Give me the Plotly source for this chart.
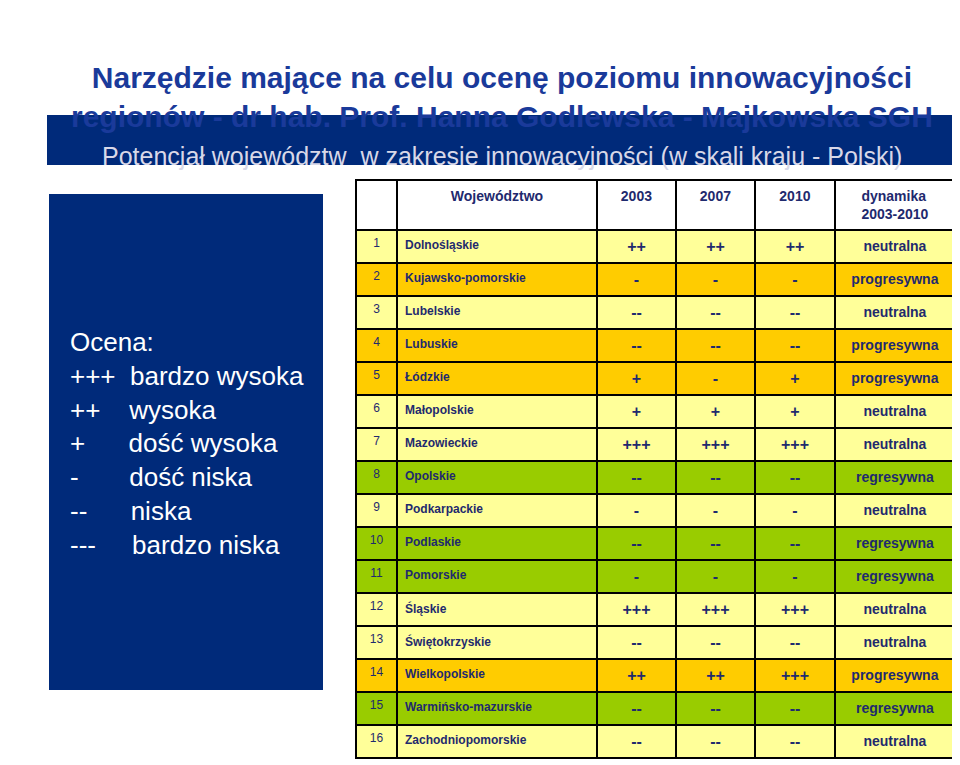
import plotly.graph_objects as go

nums = [str(i) for i in range(1, 17)]
woj = ["Dolnośląskie", "Kujawsko-pomorskie", "Lubelskie", "Lubuskie", "Łódzkie", "Małopolskie",
       "Mazowieckie", "Opolskie", "Podkarpackie", "Podlaskie", "Pomorskie", "Śląskie",
       "Świętokrzyskie", "Wielkopolskie", "Warmińsko-mazurskie", "Zachodniopomorskie"]
y2003 = ["++", "-", "--", "--", "+", "+", "+++", "--", "-", "--", "-", "+++", "--", "++", "--", "--"]
y2007 = ["++", "-", "--", "--", "-", "+", "+++", "--", "-", "--", "-", "+++", "--", "++", "--", "--"]
y2010 = ["++", "-", "--", "--", "+", "+", "+++", "--", "-", "--", "-", "+++", "--", "+++", "--", "--"]
dyn = ["neutralna", "progresywna", "neutralna", "progresywna", "progresywna", "neutralna", "neutralna",
       "regresywna", "neutralna", "regresywna", "regresywna", "neutralna", "neutralna", "progresywna",
       "regresywna", "neutralna"]
header = ["", "<b>Województwo</b>", "<b>2003</b>", "<b>2007</b>", "<b>2010</b>", "<b>dynamika<br>2003-2010</b>"]

cmap = {"neutralna": "#FFFF99", "progresywna": "#FFCC00", "regresywna": "#99CC00"}
fills = [cmap[d] for d in dyn]
navy = "#1F2A6E"
b = lambda L: ["<b>%s</b>" % v for v in L]

W, H, OFF = 952, 757, 8
px = lambda x: (x - OFF) / W
py = lambda y: 1 - (y - OFF) / H

fig = go.Figure(go.Table(
    domain=dict(x=[px(356), px(955)], y=[0, py(180)]),
    columnwidth=[41, 200, 79, 79, 80, 120],
    header=dict(values=header, fill_color="white", line_color="black", line_width=1.5,
                align="center", height=44, font=dict(family="Liberation Sans", size=14, color=navy)),
    cells=dict(values=[nums, b(woj), b(y2003), b(y2007), b(y2010), b(dyn)],
               fill_color=[fills]*6, line_color="black", line_width=1.5,
               align=["center", "left", "center", "center", "center", "center"], height=30,
               font=dict(family="Liberation Sans", size=[12, 12, 16, 16, 16, 14], color=navy))
))

shapes = [
    dict(type="rect", xref="paper", yref="paper", x0=px(47), x1=px(955), y0=py(165), y1=py(115),
         fillcolor="#002A7A", line=dict(width=0)),
    dict(type="rect", xref="paper", yref="paper", x0=px(49), x1=px(323), y0=py(690), y1=py(194),
         fillcolor="#002A7A", line=dict(width=0)),
]
ann = [
    dict(text="<b>Narzędzie mające na celu ocenę poziomu innowacyjności<br>regionów - dr hab. Prof. Hanna Godlewska - Majkowska SGH</b>",
         x=px(502), y=py(59), font=dict(family="Liberation Sans", size=30, color="#1A3A9A")),
    dict(text="Potencjał województw  w zakresie innowacyjności (w skali kraju - Polski)",
         x=px(502), y=py(140), font=dict(family="Liberation Sans", size=25, color="#D8D8E8")),
    dict(text="Ocena:<br>+++  bardzo wysoka<br>++    wysoka<br>+      dość wysoka<br>-       dość niska<br>--      niska<br>---     bardzo niska",
         x=px(68), y=py(443), xanchor="left", align="left",
         font=dict(family="Liberation Sans", size=26, color="white")),
]
for a in ann:
    a.update(xref="paper", yref="paper", showarrow=False)
    a.setdefault("xanchor", "center")
fig.update_layout(width=W, height=H, margin=dict(l=0, r=0, t=0, b=0),
                  paper_bgcolor="white", shapes=shapes, annotations=ann)
fig.write_html("out.html")
